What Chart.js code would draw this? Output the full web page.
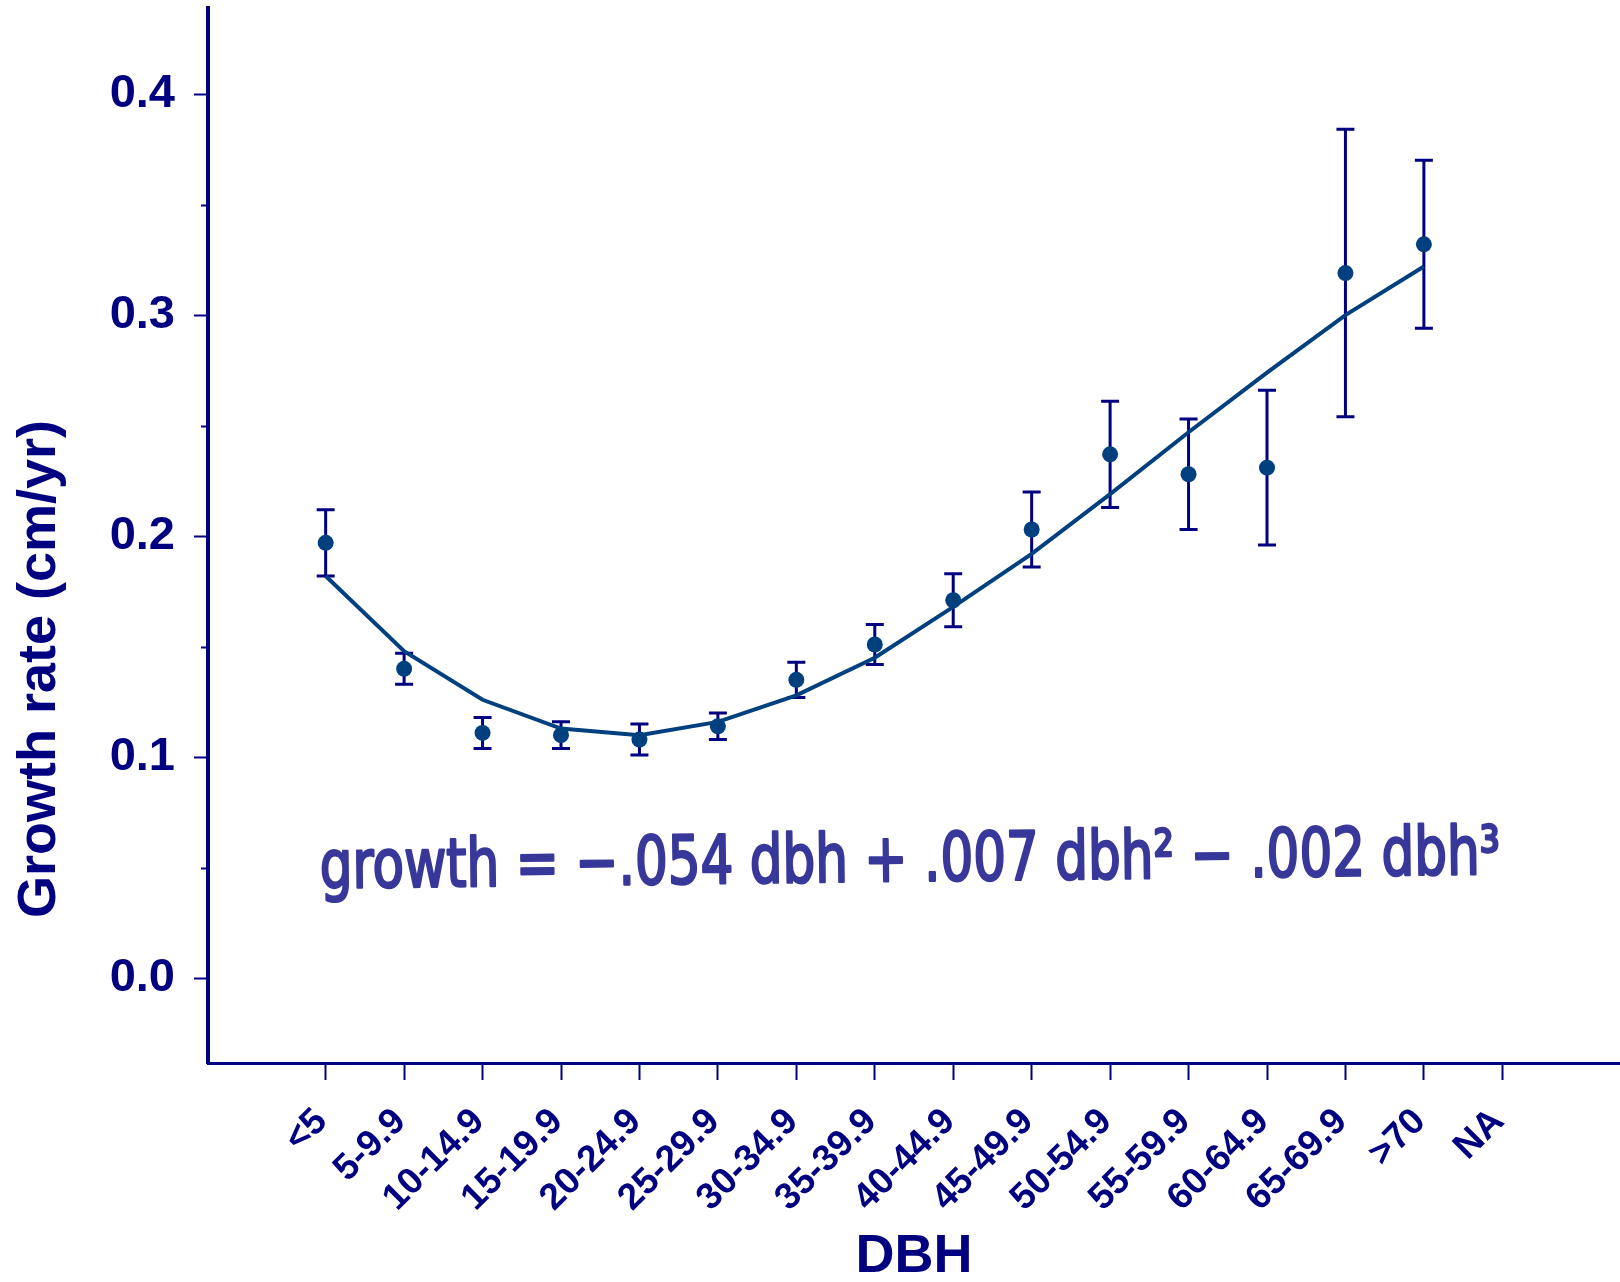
<!DOCTYPE html>
<html>
<head>
<meta charset="utf-8">
<script src="https://cdn.jsdelivr.net/npm/chart.js@4.4.1/dist/chart.umd.min.js"></script>
<style>
  html, body { margin: 0; padding: 0; background: #ffffff; }
  #wrap { width: 1620px; height: 1282px; }
</style>
</head>
<body>
<div id="wrap"><canvas id="growthChart" width="1620" height="1282"></canvas></div>
<script>
'use strict';

// ── Data ─────────────────────────────────────────────────────────────────
const DBH_CLASSES = ['<5', '5-9.9', '10-14.9', '15-19.9', '20-24.9', '25-29.9', '30-34.9',
  '35-39.9', '40-44.9', '45-49.9', '50-54.9', '55-59.9', '60-64.9', '65-69.9', '>70', 'NA'];

const GROWTH_MEAN = [0.197, 0.140, 0.111, 0.110, 0.108, 0.114, 0.135, 0.151,
  0.171, 0.203, 0.237, 0.228, 0.231, 0.319, 0.332];
const GROWTH_LOW  = [0.182, 0.133, 0.104, 0.104, 0.101, 0.108, 0.127, 0.142,
  0.159, 0.186, 0.213, 0.203, 0.196, 0.254, 0.294];
const GROWTH_HIGH = [0.212, 0.147, 0.118, 0.116, 0.115, 0.120, 0.143, 0.160,
  0.183, 0.220, 0.261, 0.253, 0.266, 0.384, 0.370];
const FIT_CURVE   = [0.182, 0.148, 0.126, 0.113, 0.110, 0.116, 0.128, 0.145,
  0.168, 0.192, 0.219, 0.247, 0.274, 0.300, 0.322];

const Y_TICKS_MAJOR = [0.0, 0.1, 0.2, 0.3, 0.4];
const Y_TICKS_MINOR = [0.05, 0.15, 0.25, 0.35];

const Y_TITLE   = 'Growth rate (cm/yr)';
const X_TITLE   = 'DBH';
const EQUATION  = 'growth = \u2212.054 dbh + .007 dbh\u00B2 \u2212 .002 dbh\u00B3';

// ── Theme ────────────────────────────────────────────────────────────────
const NAVY   = '#000080';
const MARKER = '#00407f';
const INK    = '#38389a';
const FONT   = "'Liberation Sans', Arial, Helvetica, sans-serif";

// error bars + minor ticks + titles + handwritten note
const decorations = {
  id: 'decorations',
  beforeDatasetsDraw(chart) {
    const { ctx, scales: { x, y } } = chart;
    ctx.save();
    ctx.strokeStyle = NAVY;
    ctx.lineWidth = 3;
    ctx.lineCap = 'butt';
    GROWTH_MEAN.forEach((_, i) => {
      const px = x.getPixelForValue(i);
      const top = y.getPixelForValue(GROWTH_HIGH[i]);
      const bot = y.getPixelForValue(GROWTH_LOW[i]);
      ctx.beginPath();
      ctx.moveTo(px, top); ctx.lineTo(px, bot);
      ctx.moveTo(px - 9, top); ctx.lineTo(px + 9, top);
      ctx.moveTo(px - 9, bot); ctx.lineTo(px + 9, bot);
      ctx.stroke();
    });
    ctx.restore();
  },
  afterDraw(chart) {
    const { ctx, chartArea, scales: { y } } = chart;
    ctx.save();

    // minor y ticks
    ctx.strokeStyle = NAVY;
    ctx.lineWidth = 2;
    Y_TICKS_MINOR.forEach(v => {
      const py = Math.round(y.getPixelForValue(v)) + 0.5;
      ctx.beginPath();
      ctx.moveTo(chartArea.left - 7, py);
      ctx.lineTo(chartArea.left, py);
      ctx.stroke();
    });

    // axis titles
    ctx.fillStyle = NAVY;
    ctx.font = `bold 54px ${FONT}`;
    ctx.textAlign = 'center';
    ctx.textBaseline = 'middle';
    ctx.fillText(X_TITLE, 914, 1257);
    ctx.save();
    ctx.translate(40, 669);
    ctx.rotate(-Math.PI / 2);
    ctx.fillText(Y_TITLE, 0, 0);
    ctx.restore();

    // handwritten equation
    ctx.fillStyle = INK;
    ctx.strokeStyle = INK;
    ctx.lineWidth = 2;
    ctx.lineJoin = 'round';
    ctx.font = `56px 'DejaVu Sans', sans-serif`;
    const w = ctx.measureText(EQUATION).width;
    const size = 56 * 1180 / w;
    ctx.font = `${size.toFixed(1)}px 'DejaVu Sans', sans-serif`;
    ctx.textAlign = 'left';
    ctx.textBaseline = 'alphabetic';
    ctx.translate(320, 888);
    ctx.rotate(-0.012);
    ctx.scale(1, 1.3);
    ctx.fillText(EQUATION, 0, 0);
    ctx.strokeText(EQUATION, 0, 0);

    ctx.restore();
  },
};

const ctx = document.getElementById('growthChart').getContext('2d');

new Chart(ctx, {
  type: 'scatter',
  data: {
    datasets: [
      {
        type: 'line',
        label: 'Fit',
        data: FIT_CURVE.map((v, i) => ({ x: i, y: v })),
        borderColor: MARKER,
        borderWidth: 4,
        pointRadius: 0,
        tension: 0,
        fill: false,
      },
      {
        label: 'Mean growth',
        data: GROWTH_MEAN.map((v, i) => ({ x: i, y: v })),
        backgroundColor: MARKER,
        borderColor: MARKER,
        borderWidth: 0,
        pointRadius: 8,
      },
    ],
  },
  options: {
    responsive: false,
    animation: false,
    layout: { autoPadding: false, padding: { top: 8, left: 0, right: 0, bottom: 0 } },
    plugins: {
      legend: { display: false },
      tooltip: { enabled: false },
    },
    scales: {
      x: {
        type: 'linear',
        min: -1.5,
        max: 16.5,
        afterBuildTicks: (scale) => { scale.ticks = DBH_CLASSES.map((_, i) => ({ value: i })); },
        afterFit: (scale) => {
          scale.height = 219;
          scale.paddingLeft = 0;
          scale.paddingRight = 0;
        },
        border: { display: true, color: NAVY, width: 3 },
        grid: { display: true, drawOnChartArea: false, tickLength: 17, tickColor: NAVY, tickWidth: 2 },
        ticks: {
          autoSkip: false,
          minRotation: 45,
          maxRotation: 45,
          padding: 20,
          labelOffset: -4,
          color: NAVY,
          font: { family: FONT, size: 37, weight: 'bold' },
          callback: (v) => DBH_CLASSES[v] ?? '',
        },
      },
      y: {
        type: 'linear',
        min: -0.0383,
        max: 0.4389,
        afterBuildTicks: (scale) => { scale.ticks = Y_TICKS_MAJOR.map(v => ({ value: v })); },
        afterFit: (scale) => {
          scale.width = 208;
          scale.paddingTop = 0;
          scale.paddingBottom = 0;
        },
        border: { display: true, color: NAVY, width: 4 },
        grid: { display: true, drawOnChartArea: false, tickLength: 14, tickColor: NAVY, tickWidth: 2 },
        ticks: {
          padding: 19,
          color: NAVY,
          font: { family: FONT, size: 47, weight: 'bold' },
          callback: (v) => v.toFixed(1),
        },
      },
    },
  },
  plugins: [decorations],
});
</script>
</body>
</html>
